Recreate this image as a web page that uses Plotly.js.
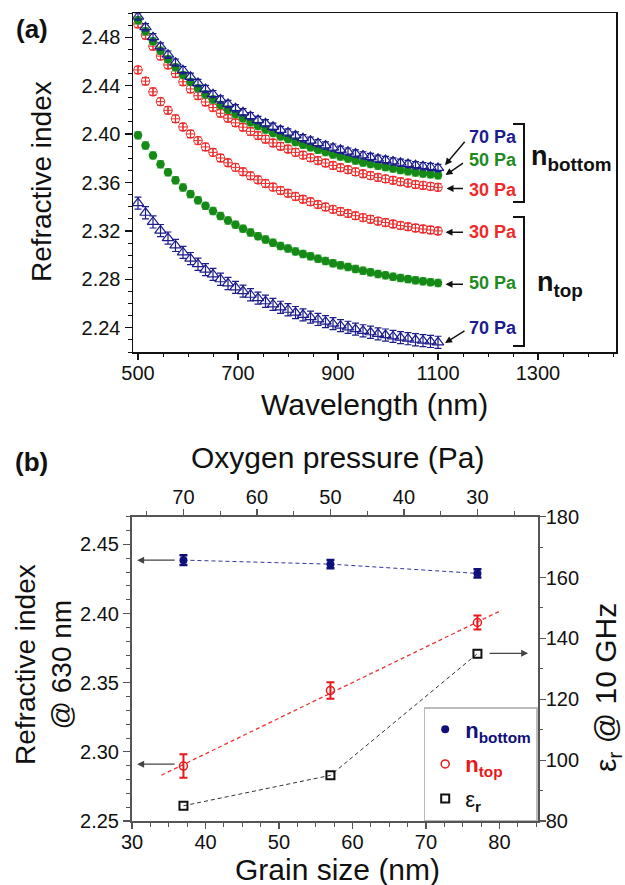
<!DOCTYPE html>
<html><head><meta charset="utf-8">
<script src="https://cdn.plot.ly/plotly-3.0.1.min.js"></script>
<style>html,body{margin:0;padding:0;background:#fff;}#chart{width:625px;height:885px;}</style>
</head><body><div id="chart"></div>
<script>
// ---------- Panel (a) data ----------
const wavelength = [500,515,530,545,560,575,590,605,620,635,650,665,680,695,710,725,740,755,770,785,800,815,830,845,860,875,890,905,920,935,950,965,980,995,1010,1025,1040,1055,1070,1085,1100];
const nBottom70 = [2.497,2.4883,2.480,2.4724,2.4656,2.459,2.4528,2.4473,2.4421,2.4373,2.433,2.4286,2.4249,2.4214,2.418,2.4148,2.4116,2.4089,2.406,2.4034,2.4013,2.3988,2.3966,2.3946,2.3925,2.3906,2.3888,2.387,2.3855,2.3839,2.3824,2.381,2.3796,2.3785,2.3774,2.3763,2.3753,2.3743,2.3735,2.3728,2.372];
const nBottom50 = [2.494,2.485,2.4766,2.4688,2.4619,2.4551,2.4487,2.4431,2.4378,2.4328,2.4285,2.424,2.4201,2.4166,2.4131,2.4098,2.4066,2.4038,2.4008,2.3981,2.396,2.3934,2.3912,2.3892,2.387,2.3851,2.3832,2.3814,2.3798,2.3782,2.3766,2.3752,2.3738,2.3727,2.3715,2.3704,2.3693,2.3683,2.3675,2.3668,2.366];
const nBottom30 = [2.491,2.4816,2.4726,2.4644,2.4571,2.45,2.4432,2.4373,2.4317,2.4265,2.4219,2.4172,2.4131,2.4093,2.4057,2.4022,2.3988,2.3958,2.3927,2.3899,2.3876,2.3849,2.3826,2.3804,2.3781,2.3761,2.3741,2.3722,2.3706,2.3688,2.3672,2.3657,2.3642,2.363,2.3618,2.3606,2.3595,2.3584,2.3576,2.3568,2.356];
const nTop30 = [2.453,2.4437,2.4349,2.4268,2.4196,2.4126,2.4059,2.4001,2.3946,2.3894,2.3849,2.3802,2.3763,2.3725,2.3689,2.3655,2.3622,2.3592,2.3562,2.3534,2.3511,2.3485,2.3462,2.3441,2.3418,2.3398,2.3378,2.336,2.3344,2.3326,2.331,2.3296,2.3281,2.3269,2.3257,2.3245,2.3235,2.3224,2.3216,2.3208,2.320];
const nTop50 = [2.399,2.3905,2.3824,2.375,2.3684,2.3619,2.3558,2.3504,2.3454,2.3407,2.3365,2.3323,2.3286,2.3252,2.3219,2.3187,2.3157,2.313,2.3102,2.3076,2.3055,2.3031,2.301,2.2991,2.297,2.2952,2.2933,2.2916,2.2902,2.2886,2.2871,2.2858,2.2844,2.2833,2.2822,2.2811,2.2802,2.2792,2.2785,2.2777,2.277];
const nTop70 = [2.343,2.335,2.3274,2.3203,2.3141,2.308,2.3023,2.2972,2.2925,2.288,2.2841,2.2801,2.2766,2.2734,2.2703,2.2673,2.2645,2.2619,2.2593,2.2569,2.2549,2.2526,2.2507,2.2488,2.2469,2.2451,2.2434,2.2418,2.2404,2.2389,2.2375,2.2363,2.235,2.234,2.2329,2.2319,2.231,2.2301,2.2294,2.2287,2.228];
const pressureLabels = ['70 Pa','50 Pa','30 Pa'];

// ---------- Panel (b) data ----------
const grainSize = [37, 57, 77];
const nBottom630 = [2.4386, 2.4357, 2.429];
const nBottom630Err = [0.0035, 0.003, 0.003];
const nTop630 = [2.2897, 2.3444, 2.3935];
const nTop630Err = [0.0085, 0.006, 0.005];
const epsR = [85, 95, 135];
const fitGrain = [34, 80.3];
const fitNTop = [2.2831, 2.4024];

// ---------- geometry helpers (pixel -> paper) ----------
const L = 132, R = 616, T = 13, B = 821;
const W = R - L, H = B - T;
const px = x => (x - L) / W;
const py = y => (B - y) / H;

const FONT = 'Liberation Sans, Arial, sans-serif';
const NAVY = '#1c1c8c', GREEN = '#168a16', RED = '#f02a2a';
const GREEN_T = '#1f8b1f';

const traces = [];
function seriesA(y, sym, color, ecolor, size, lw, err) {
  traces.push({
    type: 'scatter', mode: 'markers', x: wavelength, y: y, xaxis: 'x', yaxis: 'y',
    showlegend: false, hoverinfo: 'skip',
    marker: {symbol: sym, size: size, color: color, line: {width: lw, color: color}},
    error_y: {type: 'constant', value: err, color: ecolor, thickness: 1.2, width: 3.5}
  });
}
seriesA(nTop70, 'triangle-up-open', NAVY, NAVY, 10, 1.2, 0.005);
seriesA(nTop50, 'circle', GREEN, '#6fbf6f', 8.5, 0, 0.003);
seriesA(nTop30, 'circle-cross-open', RED, RED, 8.5, 1, 0.003);
seriesA(nBottom30, 'circle-cross-open', RED, RED, 8.5, 1, 0.003);
seriesA(nBottom50, 'circle', GREEN, '#6fbf6f', 8.5, 0, 0.003);
seriesA(nBottom70, 'triangle-up-open', NAVY, NAVY, 10, 1.2, 0.003);

// Panel (b) lines
traces.push({type:'scatter', mode:'lines', x: grainSize, y: nBottom630, xaxis:'x2', yaxis:'y2',
  showlegend:false, hoverinfo:'skip', line:{dash:'4px,3px', width:1, color:'#3434a0'}});
traces.push({type:'scatter', mode:'lines', x: fitGrain, y: fitNTop, xaxis:'x2', yaxis:'y2',
  showlegend:false, hoverinfo:'skip', line:{dash:'4px,3px', width:1.3, color:'#ee3333'}});
traces.push({type:'scatter', mode:'lines', x: grainSize, y: epsR, xaxis:'x2', yaxis:'y3',
  showlegend:false, hoverinfo:'skip', line:{dash:'4px,3px', width:1, color:'#333'}});
// Panel (b) markers (legend)
traces.push({type:'scatter', mode:'markers', x: grainSize, y: nBottom630, xaxis:'x2', yaxis:'y2',
  name:'<b><span style="color:#10107a">n<sub>bottom</sub></span></b>', legendgroup:'g1',
  marker:{symbol:'circle', size:8, color:'#10107a'},
  error_y:{type:'data', array: nBottom630Err, color:'#10107a', thickness:2.5, width:4}});
traces.push({type:'scatter', mode:'markers', x: grainSize, y: nTop630, xaxis:'x2', yaxis:'y2',
  name:'<b><span style="color:#e8191c">n<sub>top</sub></span></b>', legendgroup:'g2',
  marker:{symbol:'circle-open', size:8, color:'#e8191c', line:{width:1.5}},
  error_y:{type:'data', array: nTop630Err, color:'#e8191c', thickness:2, width:4}});
traces.push({type:'scatter', mode:'markers', x: grainSize, y: epsR, xaxis:'x2', yaxis:'y3',
  name:'ε<sub><b>r</b></sub>', legendgroup:'g3',
  marker:{symbol:'square-open', size:8, color:'#111', line:{width:2}}});

// ---------- annotations ----------
const ann = [];
function txt(x, y, text, size, opts) {
  ann.push(Object.assign({xref:'paper', yref:'paper', x: px(x), y: py(y), text: text,
    showarrow:false, font:{family:FONT, size:size, color:'#111'}, xanchor:'center', yanchor:'middle'}, opts || {}));
}
function arrow(xref, yref, x, y, ax, ay, color) {
  ann.push({xref:xref, yref:yref, x:x, y:y, ax:ax, ay:ay, axref:'pixel', ayref:'pixel', text:'',
    showarrow:true, arrowhead:2, arrowsize:1, arrowwidth:1.4, arrowcolor: color || '#111', standoff:0});
}
// panel labels & axis titles
txt(32, 29, '<b>(a)</b>', 26);
txt(42, 182, 'Refractive index', 28, {textangle:-90});
txt(374, 404, 'Wavelength (nm)', 30);
txt(31, 462, '<b>(b)</b>', 26);
txt(337, 457, 'Oxygen pressure (Pa)', 30);
txt(43, 665, 'Refractive index<br>@ 630 nm', 28, {textangle:-90});
txt(607, 688, 'ε<sub>r</sub> @ 10 GHz', 30, {textangle:-90});
txt(337, 869, 'Grain size (nm)', 30);

// pressure labels panel (a)
const colsB = [NAVY, GREEN_T, RED];
txt(467, 137.5, '<b>' + pressureLabels[0] + '</b>', 18, {xanchor:'left', font:{family:FONT, size:18, color:colsB[0]}});
txt(467, 160, '<b>' + pressureLabels[1] + '</b>', 18, {xanchor:'left', font:{family:FONT, size:18, color:colsB[1]}});
txt(467, 189.5, '<b>' + pressureLabels[2] + '</b>', 18, {xanchor:'left', font:{family:FONT, size:18, color:colsB[2]}});
txt(467, 232, '<b>' + pressureLabels[2] + '</b>', 18, {xanchor:'left', font:{family:FONT, size:18, color:colsB[2]}});
txt(467, 283, '<b>' + pressureLabels[1] + '</b>', 18, {xanchor:'left', font:{family:FONT, size:18, color:colsB[1]}});
txt(467, 328, '<b>' + pressureLabels[0] + '</b>', 18, {xanchor:'left', font:{family:FONT, size:18, color:colsB[0]}});
txt(529, 158, '<b>n<sub>bottom</sub></b>', 27, {xanchor:'left'});
txt(535, 284, '<b>n<sub>top</sub></b>', 27, {xanchor:'left'});

// arrows panel (a)
arrow('x','y', 1114, 2.3743, 21, -25);
arrow('x','y', 1115, 2.3661, 19, -13);
arrow('x','y', 1117, 2.3551, 18, 0);
arrow('x','y', 1115, 2.3189, 19, 0);
arrow('x','y', 1115, 2.2760, 19, 0);
arrow('x','y', 1114, 2.2274, 21, -13);
// arrows panel (b)
arrow('x2','y2', 30.7, 2.4386, 39, 0, '#444');
arrow('x2','y2', 30.7, 2.2911, 39, 0, '#444');
arrow('x2','y3', 83.9, 135.1, -40, 0, '#444');

// brackets
const shapes = [];
function bracket(yTop, yBot) {
  shapes.push({type:'path', xref:'paper', yref:'paper',
    path: `M ${px(513)} ${py(yTop)} L ${px(524)} ${py(yTop)} L ${px(524)} ${py(yBot)} L ${px(513)} ${py(yBot)}`,
    line:{color:'#111', width:2}});
}
bracket(124, 202);
bracket(217, 346);

const tickFont = {family:FONT, size:20, color:'#111'};
const layout = {
  width:625, height:885, margin:{l:L, r:625-R, t:T, b:885-B}, paper_bgcolor:'#fff', plot_bgcolor:'#fff',
  font:{family:FONT, color:'#111'},
  showlegend:true,
  legend:{x: px(537.7), xanchor:'right', y:0, yanchor:'bottom', bgcolor:'#fff', bordercolor:'#bbb', borderwidth:1.5,
    font:{family:FONT, size:22, color:'#111'}, tracegroupgap:3, itemwidth:30},
  xaxis:{domain:[px(133), 1], anchor:'y', range:[490, 1456], tickmode:'linear', tick0:500, dtick:200,
    ticks:'outside', ticklen:6, tickwidth:1.2, tickcolor:'#111', showline:true, linecolor:'#111', linewidth:1.5, mirror:true,
    showgrid:false, zeroline:false, tickfont:tickFont, ticklabelstandoff:-4,
    minor:{dtick:50, tick0:500, ticks:'outside', ticklen:3.5, tickwidth:1, tickcolor:'#111', showgrid:false}},
  yaxis:{domain:[py(352), 1], anchor:'x', range:[2.22, 2.50], tickmode:'linear', tick0:2.24, dtick:0.04, tickformat:'.2f',
    ticks:'outside', ticklen:7, tickwidth:1.2, tickcolor:'#111', showline:true, linecolor:'#111', linewidth:1.5, mirror:true,
    showgrid:false, zeroline:false, tickfont:tickFont,
    minor:{dtick:0.01, tick0:2.24, ticks:'outside', ticklen:4, tickwidth:1, tickcolor:'#111', showgrid:false}},
  xaxis2:{domain:[0, px(537.7)], anchor:'y2', range:[30, 85.2], tickmode:'linear', tick0:30, dtick:10,
    ticks:'outside', ticklen:6, tickwidth:1.2, tickcolor:'#555', showline:true, linecolor:'#555', linewidth:2,
    showgrid:false, zeroline:false, tickfont:tickFont, ticklabelstandoff:-4,
    minor:{dtick:2.5, tick0:30, ticks:'outside', ticklen:3.5, tickwidth:1, tickcolor:'#555', showgrid:false}},
  yaxis2:{domain:[0, py(516.7)], anchor:'x2', range:[2.25, 2.47], tickmode:'linear', tick0:2.25, dtick:0.05, tickformat:'.2f',
    ticks:'outside', ticklen:7, tickwidth:1.2, tickcolor:'#555', showline:true, linecolor:'#555', linewidth:2,
    showgrid:false, zeroline:false, tickfont:tickFont,
    minor:{dtick:0.01, tick0:2.25, ticks:'outside', ticklen:4, tickwidth:1, tickcolor:'#555', showgrid:false}},
  xaxis3:{overlaying:'x2', anchor:'y2', side:'top', range:[77, 21.8], tickmode:'linear', tick0:30, dtick:10,
    ticks:'outside', ticklen:6, tickwidth:1.2, tickcolor:'#555', showline:true, linecolor:'#555', linewidth:2,
    showgrid:false, zeroline:false, tickfont:tickFont, ticklabelstandoff:-3,
    minor:{dtick:5, tick0:30, ticks:'outside', ticklen:3.5, tickwidth:1, tickcolor:'#555', showgrid:false}},
  yaxis3:{overlaying:'y2', anchor:'x2', side:'right', range:[80, 180], tickmode:'linear', tick0:80, dtick:20,
    ticks:'outside', ticklen:6, tickwidth:1.2, tickcolor:'#555', showline:true, linecolor:'#555', linewidth:2,
    showgrid:false, zeroline:false, tickfont:tickFont, ticklabelstandoff:-4,
    minor:{dtick:10, tick0:80, ticks:'outside', ticklen:3.5, tickwidth:1, tickcolor:'#555', showgrid:false}},
  annotations: ann,
  shapes: shapes
};
// empty trace to activate the top axis
traces.push({type:'scatter', mode:'markers', x:[], y:[], xaxis:'x3', yaxis:'y2', showlegend:false, hoverinfo:'skip'});

Plotly.newPlot('chart', traces, layout, {staticPlot:true, displayModeBar:false});
</script></body></html>
